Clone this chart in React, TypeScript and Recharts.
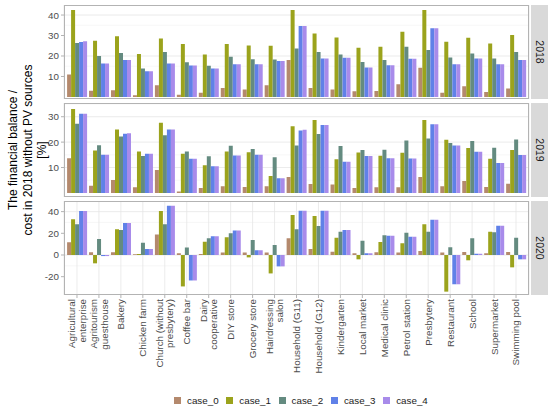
import React from 'react';
import { BarChart, Bar, XAxis, YAxis, CartesianGrid } from 'recharts';

const categories = [
  'Agricultural\nenterprise',
  'Agritourism\nguesthouse',
  'Bakery',
  'Chicken farm',
  'Church (without\npresbytery)',
  'Coffee bar',
  'Dairy\ncooperative',
  'DIY store',
  'Grocery store',
  'Hairdressing\nsalon',
  'Household (G11)',
  'Household (G12)',
  'Kindergarten',
  'Local market',
  'Medical clinic',
  'Petrol station',
  'Presbytery',
  'Restaurant',
  'School',
  'Supermarket',
  'Swimming pool',
];

const seriesKeys = ['case_0', 'case_1', 'case_2', 'case_3', 'case_4'];
const seriesColors = ['#B4896D', '#9BA31C', '#648B80', '#6081E8', '#A88BEA'];

// 2018
const y2018case0 = [11, 3, 3.3, 0.8, 5.7, 1.1, 2.1, 4.4, 3.6, 5.7, 18, 4.4, 3.6, 2.8, 2.9, 6.2, 14.2, 2.1, 5.2, 2.4, 4.1];
const y2018case1 = [42.4, 27.4, 29.7, 21, 28.6, 25.8, 20.7, 25.8, 25.1, 25, 42.4, 31, 29, 24, 24.5, 31.8, 42.4, 27, 28.9, 26.1, 30.2];
const y2018case2 = [26.4, 20, 21.5, 13.9, 22, 17, 15.2, 19.6, 18.4, 18.3, 23.7, 22, 20.7, 17.1, 18, 24.5, 22.9, 19.3, 21.2, 18.8, 22];
const y2018case3 = [26.8, 16.3, 18, 12.6, 16.3, 15.3, 13.9, 16, 16, 17.6, 34.6, 18.8, 19.1, 14.4, 15.5, 18.6, 33.5, 16, 18.8, 16, 18];
const y2018case4 = [27.2, 16.3, 18, 12.6, 16.3, 15.3, 13.9, 16, 16, 17.6, 34.6, 18.8, 19.1, 14.4, 15.5, 18.6, 33.5, 16, 18.8, 16, 18];

// 2019
const y2019case0 = [13.7, 2.8, 5.1, 2.2, 9, 0.6, 1.9, 2.6, 2.3, 2.6, 6.3, 3.5, 3.3, 1.9, 2.2, 2.2, 6.3, 2.6, 4.7, 2.3, 3.6];
const y2019case1 = [33, 16.7, 25, 16.3, 27.6, 15.4, 10.9, 16.3, 16, 6.7, 26.2, 28.7, 13.3, 15.9, 14.6, 15.8, 28.7, 20.9, 17.7, 13.5, 16.9];
const y2019case2 = [27.2, 18.8, 22.2, 14.5, 22.7, 16.3, 14.4, 18.6, 17.3, 14, 18.7, 23.2, 18.5, 16.9, 17, 20.6, 21.4, 19.7, 20.4, 17.8, 21];
const y2019case3 = [31.2, 15, 23.3, 15.4, 25, 13.5, 10.5, 14.7, 15, 5.8, 24.6, 26.7, 12.3, 14.5, 13.7, 13.6, 27, 18.7, 16.2, 11.8, 14.9];
const y2019case4 = [31.2, 15, 23.5, 15.4, 25, 13.5, 10.5, 14.7, 15, 5.8, 24.9, 26.7, 12.3, 14.5, 13.7, 13.6, 27, 18.7, 16.2, 11.8, 14.9];

// 2020
const y2020case0 = [11.7, 2.5, 2.5, 0.6, 19, 1.5, 0.9, 2.2, 2.2, 2.2, 15.4, 5.5, 3.1, 1.5, 2.5, 2.2, 3.7, 2.2, 2.8, 1.5, 2.8];
const y2020case1 = [33, -7.7, 23.7, 1, 40.6, -29, 12.3, 16.3, -2.2, -17, 36.9, 36, 16, -4, 12, 10.8, 28.3, -33.8, -4.9, 21.5, -11.4];
const y2020case2 = [28.3, 14.8, 23, 11.4, 28.3, 7, 15.4, 20, 13.8, 9.2, 23.7, 26.8, 21.5, 13.2, 18.2, 20.6, 21.5, 7.1, 15.4, 20.9, 16];
const y2020case3 = [40.6, -1, 29.5, 5.5, 45.5, -23.5, 17.2, 22.5, 4.3, -10.5, 40.9, 40.9, 23, 1.5, 17.8, 16.9, 32.6, -27, 1.2, 27, -4];
const y2020case4 = [40.6, -1, 29.5, 5.5, 45.5, -23.5, 17.2, 22.5, 4.3, -10.5, 40.9, 40.9, 23, 1.5, 17.8, 16.9, 32.6, -27, 1.2, 27, -4];

const years = ['2018', '2019', '2020'];
const ticks2018 = [0, 10, 20, 30, 40];
const ticks2019 = [0, 10, 20, 30];
const ticks2020 = [-20, 0, 20, 40];
const minor2018 = [5, 15, 25, 35];
const minor2019 = [5, 15, 25, 35];
const minor2020 = [-30, -10, 10, 30];
const titleLines = ['The financial balance /', 'cost in 2018 without PV sources', '[%]'];

const buildRows = (cols: number[][]) =>
  categories.map((name, i) => {
    const row: Record<string, any> = { name };
    seriesKeys.forEach((k, j) => {
      row[k] = cols[j][i];
    });
    return row;
  });

const panels = [
  {
    year: years[0],
    rows: buildRows([y2018case0, y2018case1, y2018case2, y2018case3, y2018case4]),
    domain: [-1, 44.9],
    ticks: ticks2018,
    minor: minor2018,
    top: 5,
  },
  {
    year: years[1],
    rows: buildRows([y2019case0, y2019case1, y2019case2, y2019case3, y2019case4]),
    domain: [-1.6, 35.4],
    ticks: ticks2019,
    minor: minor2019,
    top: 103,
  },
  {
    year: years[2],
    rows: buildRows([y2020case0, y2020case1, y2020case2, y2020case3, y2020case4]),
    domain: [-36.9, 49.8],
    ticks: ticks2020,
    minor: minor2020,
    top: 201,
  },
];

const PANEL_LEFT = 64;
const PANEL_RIGHT = 529;
const PANEL_H = 94;
const X_LABEL_H = 110;
const FONT = '"Liberation Sans", Arial, Helvetica, sans-serif';

const CategoryTick = ({ x, y, payload }: any) => {
  const lines = String(payload.value).split('\n');
  return (
    <g transform={`translate(${x},${y}) rotate(-90)`}>
      {lines.map((line, i) => (
        <text
          key={i}
          x={0}
          y={(i - (lines.length - 1) / 2) * 10.5}
          dy="0.35em"
          textAnchor="end"
          fill="#4d4d4d"
          fontSize={9.8}
        >
          {line}
        </text>
      ))}
    </g>
  );
};

const App: React.FC = () => {
  return (
    <div
      style={{
        position: 'absolute',
        left: 0,
        top: 0,
        width: 550,
        height: 409,
        background: '#ffffff',
        fontFamily: FONT,
        overflow: 'hidden',
      }}
    >
      {panels.map((p, idx) => {
        const last = idx === panels.length - 1;
        return (
          <React.Fragment key={p.year}>
            <div style={{ position: 'absolute', left: 0, top: p.top }}>
              <BarChart
                width={550}
                height={PANEL_H + (last ? X_LABEL_H : 0)}
                data={p.rows}
                margin={{ top: 0, right: 550 - PANEL_RIGHT, bottom: 0, left: 0 }}
                barCategoryGap="5%"
                barGap={0}
              >
                <CartesianGrid
                  horizontalValues={p.minor}
                  vertical={false}
                  stroke="#f2f2f2"
                  strokeWidth={0.6}
                />
                <CartesianGrid
                  horizontalValues={p.ticks}
                  stroke="#e6e6e6"
                  strokeWidth={0.8}
                />
                <XAxis
                  dataKey="name"
                  type="category"
                  interval={0}
                  padding={{ left: 2, right: 2 }}
                  axisLine={false}
                  tickLine={last ? { stroke: '#b3b3b3' } : false}
                  tickSize={3}
                  tickMargin={1}
                  height={last ? X_LABEL_H : 0}
                  tick={last ? <CategoryTick /> : false}
                />
                <YAxis
                  type="number"
                  domain={p.domain}
                  ticks={p.ticks}
                  allowDataOverflow
                  width={PANEL_LEFT}
                  axisLine={false}
                  tickLine={{ stroke: '#b3b3b3' }}
                  tickSize={3}
                  tickMargin={2}
                  tick={{ fill: '#4d4d4d', fontSize: 9.8 }}
                />
                {seriesKeys.map((k, j) => (
                  <Bar key={k} dataKey={k} fill={seriesColors[j]} isAnimationActive={false} />
                ))}
              </BarChart>
            </div>
            <div
              style={{
                position: 'absolute',
                left: PANEL_LEFT,
                top: p.top,
                width: PANEL_RIGHT - PANEL_LEFT,
                height: PANEL_H,
                border: '1px solid #b3b3b3',
                boxSizing: 'border-box',
                pointerEvents: 'none',
              }}
            />
            <div
              style={{
                position: 'absolute',
                left: PANEL_RIGHT + 2,
                top: p.top,
                width: 17,
                height: PANEL_H,
                background: '#d9d9d9',
                display: 'flex',
                alignItems: 'center',
                justifyContent: 'center',
              }}
            >
              <span
                style={{
                  transform: 'rotate(90deg)',
                  fontSize: 10.5,
                  color: '#1a1a1a',
                  whiteSpace: 'nowrap',
                }}
              >
                {p.year}
              </span>
            </div>
          </React.Fragment>
        );
      })}

      <svg style={{ position: 'absolute', left: 0, top: 0 }} width={60} height={300}>
        {titleLines.map((line, i) => (
          <text
            key={i}
            transform={`translate(${13 + i * 14.5},150) rotate(-90)`}
            textAnchor="middle"
            dy="0.35em"
            fontSize={12}
            fill="#000000"
          >
            {line}
          </text>
        ))}
      </svg>

      {seriesKeys.map((k, j) => (
        <div
          key={k}
          style={{
            position: 'absolute',
            left: 174 + j * 52.3,
            top: 394,
            height: 12,
            display: 'flex',
            alignItems: 'center',
          }}
        >
          <div style={{ width: 7, height: 7, background: seriesColors[j], marginRight: 6 }} />
          <span style={{ fontSize: 9.8, color: '#1a1a1a' }}>{k}</span>
        </div>
      ))}
    </div>
  );
};

export default App;
